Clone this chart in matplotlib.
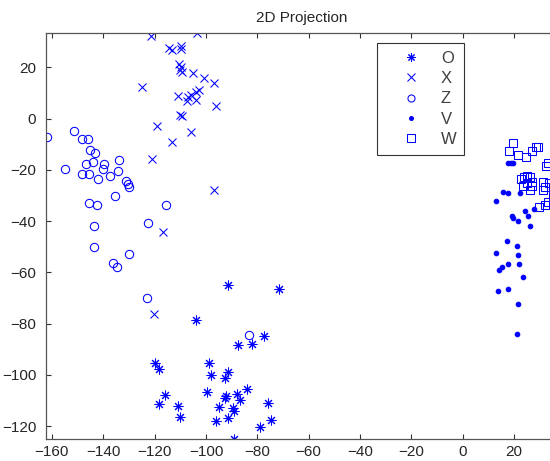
import matplotlib
matplotlib.use("Agg")
import matplotlib.pyplot as plt

plt.rcParams["font.family"] = ["Liberation Sans", "DejaVu Sans"]

# --- series O (asterisks) ---
o_x = [-91.3, -71.6, -103.9, -77.4, -87.4, -82.0, -119.7, -118.4, -98.9, -98.2,
       -91.3, -92.6, -115.9, -118.4, -110.8, -110.0, -99.6, -92.1, -92.5, -87.8,
       -84.1, -86.8, -95.1, -89.5, -89.2, -91.4, -96.1, -75.8, -74.6, -78.8, -89.0]
o_y = [-64.8, -66.5, -78.7, -84.9, -88.3, -87.9, -95.2, -97.8, -95.2, -100.0,
       -99.0, -101.3, -107.7, -111.5, -112.3, -116.4, -106.8, -108.2, -108.9, -107.6,
       -105.5, -109.9, -112.4, -112.8, -114.1, -116.7, -118.0, -111.1, -117.7, -120.3, -124.9]

# --- series X (crosses) ---
x_x = [-121.4, -103.4, -114.3, -113.4, -109.6, -109.6, -110.4, -109.9, -110.1, -109.5,
       -104.9, -100.7, -96.9, -124.9, -110.8, -106.9, -106.0, -107.4, -103.9, -102.8,
       -103.7, -96.2, -110.1, -109.5, -119.2, -105.8, -113.1, -121.2, -96.9, -116.9, -120.1]
x_y = [32.4, 33.3, 27.5, 26.8, 28.5, 27.2, 21.2, 20.3, 19.0, 18.1,
       17.7, 15.8, 13.8, 12.4, 8.9, 8.6, 9.3, 6.9, 7.4, 11.2,
       10.6, 5.1, 1.4, 1.2, -2.7, -5.1, -9.2, -15.8, -27.7, -44.4, -76.3]

# --- series Z (circles) ---
z_x = [-161.8, -151.3, -148.2, -146.0, -145.2, -143.2, -146.9, -143.9, -154.9, -148.2,
       -145.6, -139.6, -140.0, -133.9, -134.2, -142.0, -137.3, -131.2, -130.5, -130.1,
       -135.3, -145.5, -142.6, -115.6, -122.5, -143.5, -143.7, -130.0, -136.2, -134.8,
       -123.1, -83.2]
z_y = [-7.3, -4.7, -7.8, -7.8, -12.2, -13.5, -17.7, -17.0, -19.8, -21.7,
       -21.7, -17.8, -19.8, -16.2, -20.5, -23.5, -22.4, -24.4, -25.5, -26.5,
       -30.2, -32.9, -33.7, -33.6, -40.8, -41.8, -50.1, -52.9, -56.4, -58.0,
       -69.9, -84.5]

# --- series V (dots) ---
v_x = [17.6, 18.7, 19.7, 15.6, 17.6, 22.4, 13.0, 24.2, 25.4, 27.9,
       19.2, 19.7, 21.4, 26.3, 17.1, 21.0, 13.0, 21.4, 17.6, 21.9,
       15.3, 14.3, 23.4, 13.9, 17.6, 21.4, 21.0]
v_y = [-17.4, -17.4, -17.4, -28.6, -29.0, -28.9, -32.0, -35.9, -37.9, -35.4,
       -37.9, -38.9, -39.8, -41.8, -47.9, -49.8, -52.5, -53.3, -56.7, -56.7,
       -57.8, -59.1, -61.8, -67.1, -66.5, -72.3, -84.2]

# --- series W (squares) ---
w_x = [19.5, 18.0, 21.7, 24.5, 26.9, 28.6, 29.2, 32.5, 33.3, 22.6,
       23.9, 25.2, 26.2, 26.9, 26.9, 26.2, 24.9, 23.4, 31.4, 32.1,
       31.4, 33.6, 29.8, 32.2, 33.3, 35.0]
w_y = [-9.4, -12.6, -14.2, -14.8, -12.7, -10.9, -11.2, -18.5, -17.4, -23.7,
       -22.9, -22.4, -22.9, -24.6, -26.3, -27.8, -25.2, -26.3, -24.6, -26.5,
       -27.8, -25.2, -34.3, -33.8, -32.4, -30.0]

labels = ["O", "X", "Z", "V", "W"]
xticks = list(range(-160, 21, 20))
yticks = list(range(-120, 21, 20))

fig = plt.figure(figsize=(5.5, 4.61), dpi=100)
W, H = 550, 461
ax = fig.add_axes([46 / W, 22 / H, 512 / W, 406 / H])

blue = "#0000ff"
ms = 6
ax.plot(o_x, o_y, linestyle="none", marker=(8, 2, 0), ms=7, mew=0.75,
        color=blue, label=labels[0])
ax.plot(x_x, x_y, linestyle="none", marker="x", ms=ms, mew=0.75,
        color=blue, label=labels[1])
ax.plot(z_x, z_y, linestyle="none", marker="o", ms=ms, mew=0.75,
        mfc="none", mec=blue, label=labels[2])
ax.plot(v_x, v_y, linestyle="none", marker=".", ms=6.5, mew=0.8,
        color=blue, label=labels[3])
ax.plot(w_x, w_y, linestyle="none", marker="s", ms=ms, mew=0.75,
        mfc="none", mec=blue, label=labels[4])

ax.set_xlim(-162.3, 37.1)
ax.set_ylim(-125.0, 33.45)
ax.set_xticks(xticks)
ax.set_yticks(yticks)

for s in ax.spines.values():
    s.set_color("#555555")
    s.set_linewidth(0.9)
ax.tick_params(direction="in", top=True, right=True, length=3.6, width=0.8,
               color="#333333", labelsize=11, labelcolor="#262626")
ax.tick_params(axis="x", pad=4)
ax.tick_params(axis="y", pad=7)

ax.set_title("2D Projection", fontsize=11, color="#262626", pad=8)

leg = ax.legend(loc="upper left", bbox_to_anchor=(376.7 / W, 1 - 43.3 / H),
                bbox_transform=fig.transFigure, borderaxespad=0, numpoints=1,
                fontsize=12, fancybox=False, framealpha=1, edgecolor="#333333",
                borderpad=0.45, labelspacing=0.32, handlelength=3.2,
                handletextpad=0.2, markerscale=0.85)
leg.get_frame().set_linewidth(0.8)
for t in leg.get_texts():
    t.set_color("#404040")

fig.savefig("out.png", dpi=100)
